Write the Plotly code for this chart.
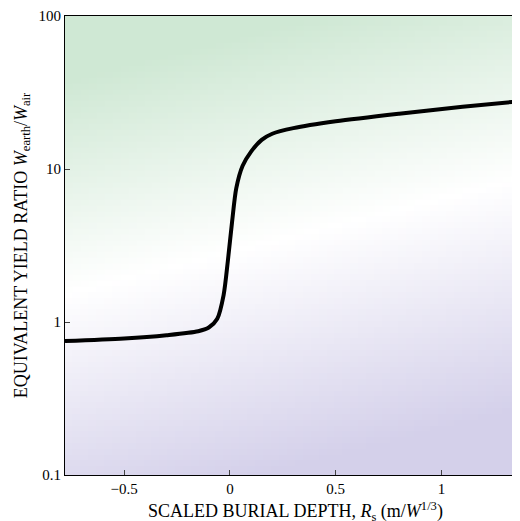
import numpy as np
import plotly.graph_objects as go

depth = [-0.78,-0.5,-0.3,-0.15,-0.1,-0.06,-0.03,-0.01,0.01,0.03,0.06,0.1,0.15,0.2,0.3,0.5,0.8,1.1,1.4]
ratio = [0.75,0.78,0.82,0.87,0.92,1.05,1.5,2.5,4.5,7.5,10.5,13,15.5,17,18.5,20.5,23,25.5,28]
xtick_vals = [-0.5,0,0.5,1]
xtick_text = ["\u22120.5","0","0.5","1"]
ytick_vals = [0.1,1,10,100]
ytick_text = ["0.1","1","10","100"]

gx = np.linspace(-0.8, 1.42, 60)
gy = np.linspace(-1, 2, 80)
Z = gy[:, None] - (0.45 + 0.35 * gx[None, :])
heat = go.Heatmap(x=gx, y=10**gy, z=Z, zmin=-1.5, zmax=1.4, showscale=False, hoverinfo="skip",
                  colorscale=[[0, "#d4d0ea"], [0.52, "#ffffff"], [1, "#cfe8d4"]])
line = go.Scatter(x=depth, y=ratio, mode="lines", line=dict(color="black", width=4, shape="spline", smoothing=0.8))
fig = go.Figure([heat, line])
font = dict(family="Liberation Serif, DejaVu Serif, serif", size=15, color="black")
fig.update_layout(width=520, height=521, margin=dict(l=57, r=2, t=8, b=54), showlegend=False,
                  plot_bgcolor="white", paper_bgcolor="white", font=font)
fig.update_xaxes(range=[-0.78, 1.4], tickvals=xtick_vals, ticktext=xtick_text, ticks="inside", ticklen=5,
                 showgrid=False, zeroline=False, showline=True, linecolor="black", mirror=True, automargin=False,
                 title=dict(text="SCALED BURIAL DEPTH, <i>R</i><sub>s</sub> (m/<i>W</i><sup>1/3</sup>)", standoff=8))
fig.update_yaxes(type="log", range=[-1, 2], tickvals=ytick_vals, ticktext=ytick_text, ticks="inside", ticklen=5,
                 showgrid=False, zeroline=False, showline=True, linecolor="black", mirror=True, automargin=False,
                 title=dict(text="EQUIVALENT YIELD RATIO <i>W</i><sub>earth</sub>/<i>W</i><sub>air</sub>", standoff=6))
fig.write_html("out.html")
